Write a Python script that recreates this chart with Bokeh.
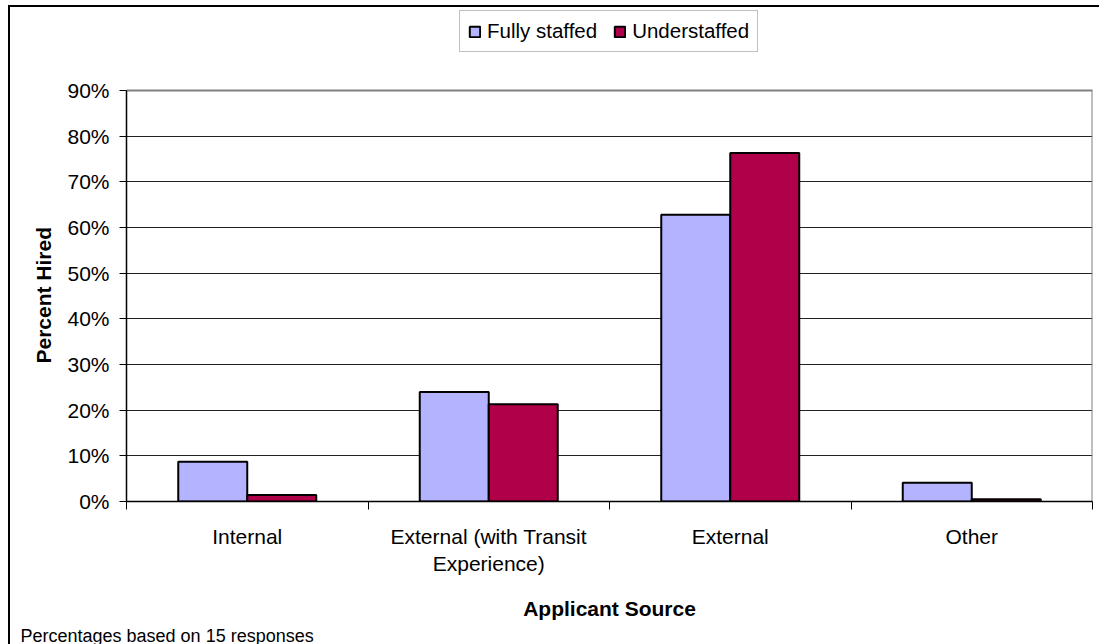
from bokeh.plotting import figure
from bokeh.models import (ColumnDataSource, Range1d, LinearAxis, FixedTicker,
                          NumeralTickFormatter, Legend, LegendItem, Title)
from bokeh.transform import dodge
from bokeh.embed import file_html
from bokeh.resources import INLINE

# Hiring outcomes by applicant source
categories = ["Internal", "External (with Transit\nExperience)", "External", "Other"]
fully_staffed = [0.087, 0.240, 0.628, 0.041]
understaffed = [0.014, 0.213, 0.763, 0.005]
y_ticks = [0.0, 0.1, 0.2, 0.3, 0.4, 0.5, 0.6, 0.7, 0.8, 0.9]
series_names = ["Fully staffed", "Understaffed"]
series_colors = ["#B3B3FF", "#B0004A"]

FONT = "Liberation Sans"
BAR_W = 1 / 3.5  # two bars per slot plus a 150% gap

n = len(categories)
y_top = y_ticks[-1]
slot_centers = [i + 0.5 for i in range(n)]
source = ColumnDataSource(dict(x=slot_centers, fully=fully_staffed, under=understaffed))

# The frame reaches up to hold the legend; the plot area itself stops at y_top.
PLOT_PX = 411
HEAD_PX = 81
p = figure(
    x_range=Range1d(0, n),
    y_range=Range1d(0, y_top * (PLOT_PX + HEAD_PX) / PLOT_PX),
    frame_width=966, frame_height=PLOT_PX + HEAD_PX,
    min_border_left=116, min_border_right=7, min_border_top=2, min_border_bottom=143,
    x_axis_location=None, y_axis_location="left",
    output_backend="svg", toolbar_location=None,
    background_fill_color="white", border_fill_color="white",
)
p.margin = (5, 0, 0, 8)
p.styles = {"border-top": "2px solid black", "border-left": "2px solid black"}
p.outline_line_color = None

# horizontal gridlines
p.xgrid.visible = False
p.ygrid.ticker = FixedTicker(ticks=y_ticks)
p.ygrid.grid_line_color = "#222222"
p.ygrid.grid_line_width = 1

# y axis
ya = p.yaxis[0]
ya.ticker = FixedTicker(ticks=y_ticks)
ya.bounds = (0, y_top)
ya.formatter = NumeralTickFormatter(format="0%")
ya.axis_line_color = "black"
ya.axis_line_width = 1.5
ya.major_tick_out = 7
ya.major_tick_in = 0
ya.minor_tick_line_color = None
ya.major_label_standoff = 10
ya.major_label_text_font = FONT
ya.major_label_text_font_size = "21px"
ya.major_label_text_color = "black"

# y title, centred on the plot area rather than the whole frame
y_title = Title(text="Percent Hired", align="left", offset=138, standoff=19,
                text_font=FONT, text_font_size="21px", text_font_style="bold",
                text_color="black")
p.add_layout(y_title, "left")

# slot boundary ticks along the bottom
edge_axis = LinearAxis(ticker=FixedTicker(ticks=list(range(n + 1))))
edge_axis.axis_line_color = "black"
edge_axis.axis_line_width = 1.5
edge_axis.major_tick_out = 8
edge_axis.major_tick_in = 0
edge_axis.minor_tick_line_color = None
edge_axis.major_label_text_font_size = "1px"
edge_axis.major_label_text_color = None
edge_axis.major_label_standoff = 0
p.add_layout(edge_axis, "below")

# category labels and axis title
cat_axis = LinearAxis(ticker=FixedTicker(ticks=slot_centers))
cat_axis.major_label_overrides = {c: name for c, name in zip(slot_centers, categories)}
cat_axis.axis_line_color = None
cat_axis.major_tick_line_color = None
cat_axis.minor_tick_line_color = None
cat_axis.major_label_standoff = 9
cat_axis.major_label_text_font = FONT
cat_axis.major_label_text_font_size = "21px"
cat_axis.major_label_text_color = "black"
cat_axis.axis_label = "Applicant Source"
cat_axis.axis_label_text_font = FONT
cat_axis.axis_label_text_font_size = "21px"
cat_axis.axis_label_text_font_style = "bold"
cat_axis.axis_label_text_color = "black"
cat_axis.axis_label_standoff = 19
p.add_layout(cat_axis, "below")

# footnote in the lower-left corner
note = Title(text="Percentages based on 15 responses", align="left", offset=-106, standoff=0,
             text_font=FONT, text_font_size="18px", text_font_style="normal",
             text_color="black")
p.add_layout(note, "below")

# gray plot-area border along the top and right
p.line(x=[0, n, n], y=[y_top, y_top, 0], line_color="#808080", line_width=2)

r_full = p.vbar(x=dodge("x", -BAR_W / 2), top="fully", width=BAR_W,
                source=source, fill_color=series_colors[0], line_color="black", line_width=2)
r_under = p.vbar(x=dodge("x", BAR_W / 2), top="under", width=BAR_W,
                 source=source, fill_color=series_colors[1], line_color="black", line_width=2)

legend = Legend(
    items=[LegendItem(label=series_names[0], renderers=[r_full]),
           LegendItem(label=series_names[1], renderers=[r_under])],
    location=(333, 449), orientation="horizontal",
    label_text_font=FONT, label_text_font_size="20.5px", label_text_color="black",
    glyph_width=13, glyph_height=13, label_standoff=6, spacing=16,
    padding=8, margin=0,
    border_line_color="#808080", border_line_width=1.5,
    background_fill_color="white", background_fill_alpha=1,
)
p.add_layout(legend, "center")

open("out.html", "w").write(file_html(p, INLINE))
